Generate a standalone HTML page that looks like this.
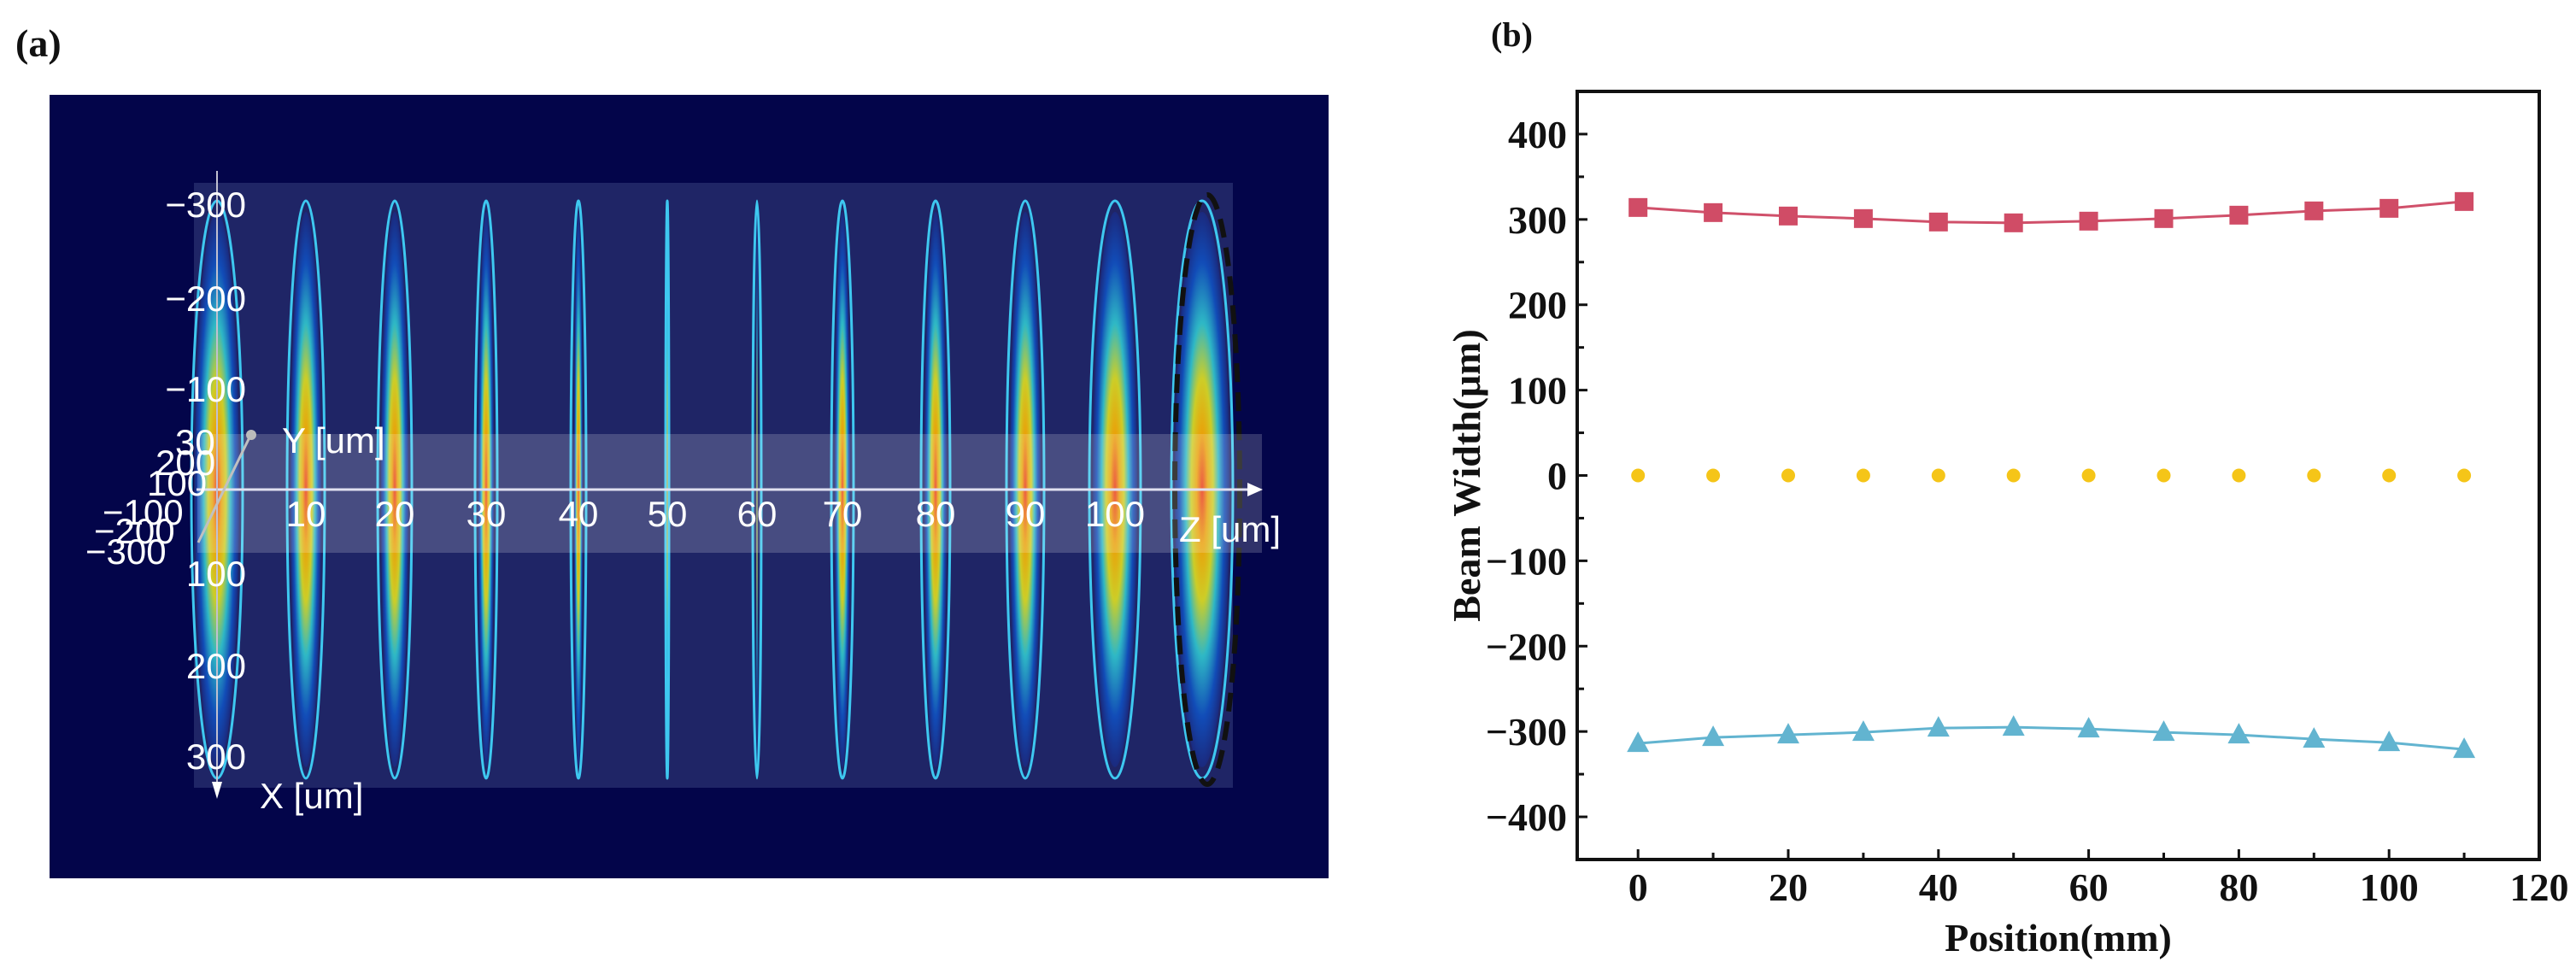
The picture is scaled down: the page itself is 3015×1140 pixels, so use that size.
<!DOCTYPE html>
<html><head><meta charset="utf-8"><style>
html,body{margin:0;padding:0;background:#fff;width:3015px;height:1140px;overflow:hidden}
svg{display:block}
.tk{font-family:"Liberation Serif",serif;font-weight:bold;font-size:46px;fill:#111}
.wl{font-family:"Liberation Sans",sans-serif;font-size:42px;fill:#fff}
</style></head><body>
<svg id="root" width="3015" height="1140" viewBox="0 0 3015 1140">
<defs>
<radialGradient id="beam" cx="0.5" cy="0.5" r="0.5">
<stop offset="0" stop-color="#ff3a10"/>
<stop offset="0.2" stop-color="#ffb000"/>
<stop offset="0.4" stop-color="#e0e020"/>
<stop offset="0.6" stop-color="#30c8d0"/>
<stop offset="0.82" stop-color="#1050c0"/>
<stop offset="1" stop-color="#1a2a80"/>
</radialGradient>
</defs>
<text x="18" y="66" font-family="Liberation Serif,serif" font-weight="bold" font-size="46" fill="#111">(a)</text>
<text x="1745" y="54" font-family="Liberation Serif,serif" font-weight="bold" font-size="40" fill="#111">(b)</text>
<g id="panelA">
<rect x="58" y="111" width="1497" height="917" fill="#03054a"/>
<rect x="227" y="214" width="1216" height="708" fill="#1f2566"/>
<g id="ells"></g>
<rect x="231" y="508" width="1246" height="139" fill="#ffffff" opacity="0.18"/>
<line x1="230" y1="573" x2="1460" y2="573" stroke="#e0e0f0" stroke-width="3"/>
<polygon points="1460,565 1478,573 1460,581" fill="#fff"/>
<line x1="254" y1="200" x2="254" y2="925" stroke="#c0c0d0" stroke-width="2"/>
<polygon points="248,915 254,935 260,915" fill="#fff"/>
<line x1="232" y1="635" x2="292" y2="512" stroke="#c0c0c0" stroke-width="3"/>
<circle cx="294" cy="509" r="6" fill="#bbb"/>
<g id="alabels"></g>
<text x="304" y="946" class="wl">X [um]</text>
<text x="330" y="530" class="wl">Y [um]</text>
<text x="1380" y="634" class="wl">Z [um]</text>
<text x="205" y="532" class="wl" font-size="36">30</text>
<text x="182" y="556" class="wl" font-size="36">200</text>
<text x="172" y="580" class="wl" font-size="36">100</text>
<text x="120" y="614" class="wl" font-size="36">−100</text>
<text x="110" y="636" class="wl" font-size="36">−200</text>
<text x="100" y="660" class="wl" font-size="36">−300</text>
</g>
<g id="chart"></g>
</svg>
<script>
// panel (a) image data
const zLabels = [0,10,20,30,40,50,60,70,80,90,100,110];
const ellCx = [254,358,462,569,677,781,886,986,1095,1200,1305,1407];
const ellHalfW = [30,22,20,13,9,2,5,13,17,22,30,36];
const xTickLabels = ["−300","−200","−100","100","200","300"];
const xTickY = [254,364,470,686,794,900];

// panel (b) chart data
const positions = [0,10,20,30,40,50,60,70,80,90,100,110];
const upperWidth = [314,308,304,301,297,296,298,301,305,310,313,321];
const centerVals = [0,0,0,0,0,0,0,0,0,0,0,0];
const lowerWidth = [-314,-307,-304,-301,-296,-295,-297,-301,-304,-309,-313,-321];
const xTicks = [0,20,40,60,80,100,120];
const yTicks = [400,300,200,100,0,-100,-200,-300,-400];

const NS="http://www.w3.org/2000/svg";
function mk(tag,attrs,parent){const e=document.createElementNS(NS,tag);for(const k in attrs)e.setAttribute(k,attrs[k]);parent.appendChild(e);return e;}

const ells=document.getElementById('ells');
const al=document.getElementById('alabels');
for(let i=0;i<ellCx.length;i++){
  const rx=ellHalfW[i];
  const b=mk('ellipse',{cx:ellCx[i],cy:573,rx:Math.max(rx-4,1),ry:325,fill:'url(#beam)',opacity:0.9},ells);
  
  
  const o=mk('ellipse',{cx:ellCx[i],cy:573,rx:rx,ry:338,fill:'none',stroke:'#3ec8f0','stroke-width':3},ells);
  
  
  if(i>0 && i<11){
    const t=mk('text',{x:ellCx[i],y:616,'text-anchor':'middle',class:'wl'},al);
    t.textContent=zLabels[i];
    
    
  }
}
const d=mk('ellipse',{cx:1413,cy:573,rx:38,ry:345,fill:'none',stroke:'#111','stroke-width':6,'stroke-dasharray':'22 12'},ells);


for(let i=0;i<xTickLabels.length;i++){
  const t=mk('text',{x:288,y:xTickY[i],'text-anchor':'end',class:'wl'},al);
  t.textContent=xTickLabels[i];
  
  
}

// chart b
const L=1846,R=2972,T=107,B=1006,XMIN=-8.1,XMAX=120,YMIN=-450,YMAX=450;
const sx=v=>L+(v-XMIN)/(XMAX-XMIN)*(R-L);
const sy=v=>B-(v-YMIN)/(YMAX-YMIN)*(B-T);
const g=document.getElementById('chart');
const frame=mk('rect',{x:L,y:T,width:R-L,height:B-T,fill:'none',stroke:'#111','stroke-width':4},g);


for(let v=-450;v<=450;v+=50){
  const major=v%100===0;
  const tk=mk('line',{x1:L,x2:L+(major?12:8),y1:sy(v),y2:sy(v),stroke:'#111','stroke-width':3},g);
  
  
}
yTicks.forEach(v=>{
  const t=mk('text',{x:L-12,y:sy(v)+16,'text-anchor':'end',class:'tk'},g);
  t.textContent=(v<0?'−':'')+Math.abs(v);
  
  
});
for(let v=0;v<=110;v+=10){
  const major=v%20===0;
  const tk=mk('line',{x1:sx(v),x2:sx(v),y1:B,y2:B-(major?12:8),stroke:'#111','stroke-width':3},g);
  
  
}
xTicks.forEach(v=>{
  const t=mk('text',{x:sx(v),y:1054,'text-anchor':'middle',class:'tk'},g);
  t.textContent=v;
  
  
});
const xt=mk('text',{x:(L+R)/2,y:1113,'text-anchor':'middle',class:'tk','font-size':48},g);
xt.textContent='Position(mm)';


const yt=mk('text',{x:0,y:0,'text-anchor':'middle',class:'tk','font-size':46,transform:`translate(1732,${(T+B)/2}) rotate(-90)`},g);
yt.textContent='Beam Width(μm)';



function line(vals,color,name){
  const p=mk('polyline',{points:positions.map((x,i)=>sx(x)+','+sy(vals[i])).join(' '),fill:'none',stroke:color,'stroke-width':3},g);
  
  
}
line(upperWidth,'#d0506a','upper-width-line');
line(lowerWidth,'#62b4d0','lower-width-line');
positions.forEach((x,i)=>{
  const s=mk('rect',{x:sx(x)-11,y:sy(upperWidth[i])-11,width:22,height:22,fill:'#d04c66'},g);
  
  
  const cx=sx(x),cy=sy(lowerWidth[i]);
  const tr=mk('polygon',{points:`${cx},${cy-14} ${cx+13},${cy+10} ${cx-13},${cy+10}`,fill:'#62b4d0'},g);
  
  
  const c=mk('circle',{cx:sx(x),cy:sy(centerVals[i]),r:8,fill:'#f5c518'},g);
  
  
});
</script>
</body></html>
